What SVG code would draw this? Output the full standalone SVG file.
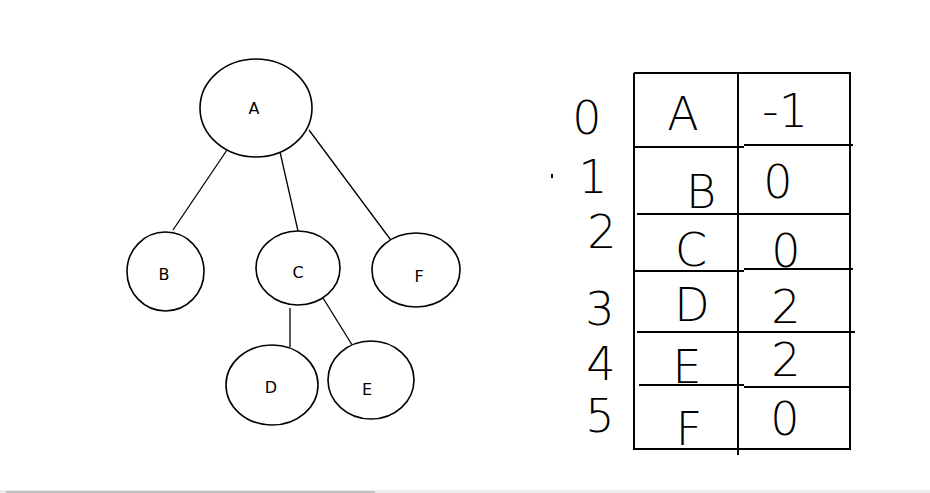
<svg xmlns="http://www.w3.org/2000/svg" width="930" height="493" viewBox="0 0 930 493">
<style>
.node ellipse{fill:#fff;stroke:#000;stroke-width:1.6}
.node text{font-family:"DejaVu Sans","Liberation Sans",sans-serif;font-size:16px;fill:#000;text-anchor:middle}
.edge{stroke:#000;stroke-width:1.3;fill:none}
.grid{stroke:#000;stroke-width:2;fill:none}
.hw{font-family:"DejaVu Sans","Liberation Sans",sans-serif;font-weight:200;font-size:46px;fill:#000;text-anchor:middle}
</style>
<rect width="930" height="493" fill="#fff"/>
<g id="connectors">
<line class="edge" x1="227" y1="150" x2="173" y2="230"/>
<line class="edge" x1="280" y1="152" x2="298" y2="231"/>
<line class="edge" x1="309" y1="130" x2="396" y2="247"/>
<line class="edge" x1="290" y1="308" x2="290" y2="347"/>
<line class="edge" x1="323" y1="298" x2="354" y2="348"/>
</g>
<g id="node-A" class="node"><ellipse cx="256" cy="108" rx="56" ry="49"/><text x="254" y="114">A</text></g>
<g id="node-B" class="node"><ellipse cx="165.5" cy="271.5" rx="38.5" ry="39.5"/><text x="164" y="280">B</text></g>
<g id="node-C" class="node"><ellipse cx="298" cy="268" rx="42" ry="37"/><text x="298" y="278">C</text></g>
<g id="node-F" class="node"><ellipse cx="416" cy="270" rx="44" ry="37"/><text x="419" y="282">F</text></g>
<g id="node-D" class="node"><ellipse cx="272" cy="385" rx="46" ry="40"/><text x="271" y="393">D</text></g>
<g id="node-E" class="node"><ellipse cx="371" cy="380" rx="43" ry="39"/><text x="367" y="395">E</text></g>
<rect x="551" y="174" width="2" height="4" fill="#000"/>
<g id="table">
<polyline class="grid" points="634,73 850,73 850,449 634,449 634,73"/>
<line class="grid" x1="738" y1="73" x2="738" y2="455"/>
<line class="grid" x1="634" y1="147" x2="744" y2="147"/>
<line class="grid" x1="744" y1="145" x2="853" y2="145"/>
<line class="grid" x1="637" y1="214" x2="850" y2="214"/>
<line class="grid" x1="634" y1="271" x2="744" y2="271"/>
<line class="grid" x1="744" y1="269" x2="853" y2="269"/>
<line class="grid" x1="637" y1="332" x2="855" y2="332"/>
<line class="grid" x1="639" y1="385" x2="744" y2="385"/>
<line class="grid" x1="744" y1="387" x2="849" y2="387"/>
</g>
<g id="indices">
<text class="hw" x="587" y="134">0</text>
<text class="hw" x="593" y="193">1</text>
<text class="hw" x="602" y="248">2</text>
<text class="hw" x="600" y="325">3</text>
<text class="hw" x="601" y="380">4</text>
<text class="hw" x="600" y="432">5</text>
</g>
<g id="cells">
<text class="hw" x="683" y="130">A</text>
<text class="hw" x="785" y="127">-1</text>
<text class="hw" x="701" y="208">B</text>
<text class="hw" x="778" y="198">0</text>
<text class="hw" x="691" y="266">C</text>
<text class="hw" x="786" y="267">0</text>
<text class="hw" x="692" y="321">D</text>
<text class="hw" x="786" y="323">2</text>
<text class="hw" x="687" y="383">E</text>
<text class="hw" x="786" y="376">2</text>
<text class="hw" x="689" y="445">F</text>
<text class="hw" x="785" y="435">0</text>
</g>
<rect x="0" y="490" width="930" height="3" fill="#ececec"/>
<rect x="6" y="491" width="369" height="2" fill="#c2c2c2"/>
</svg>
